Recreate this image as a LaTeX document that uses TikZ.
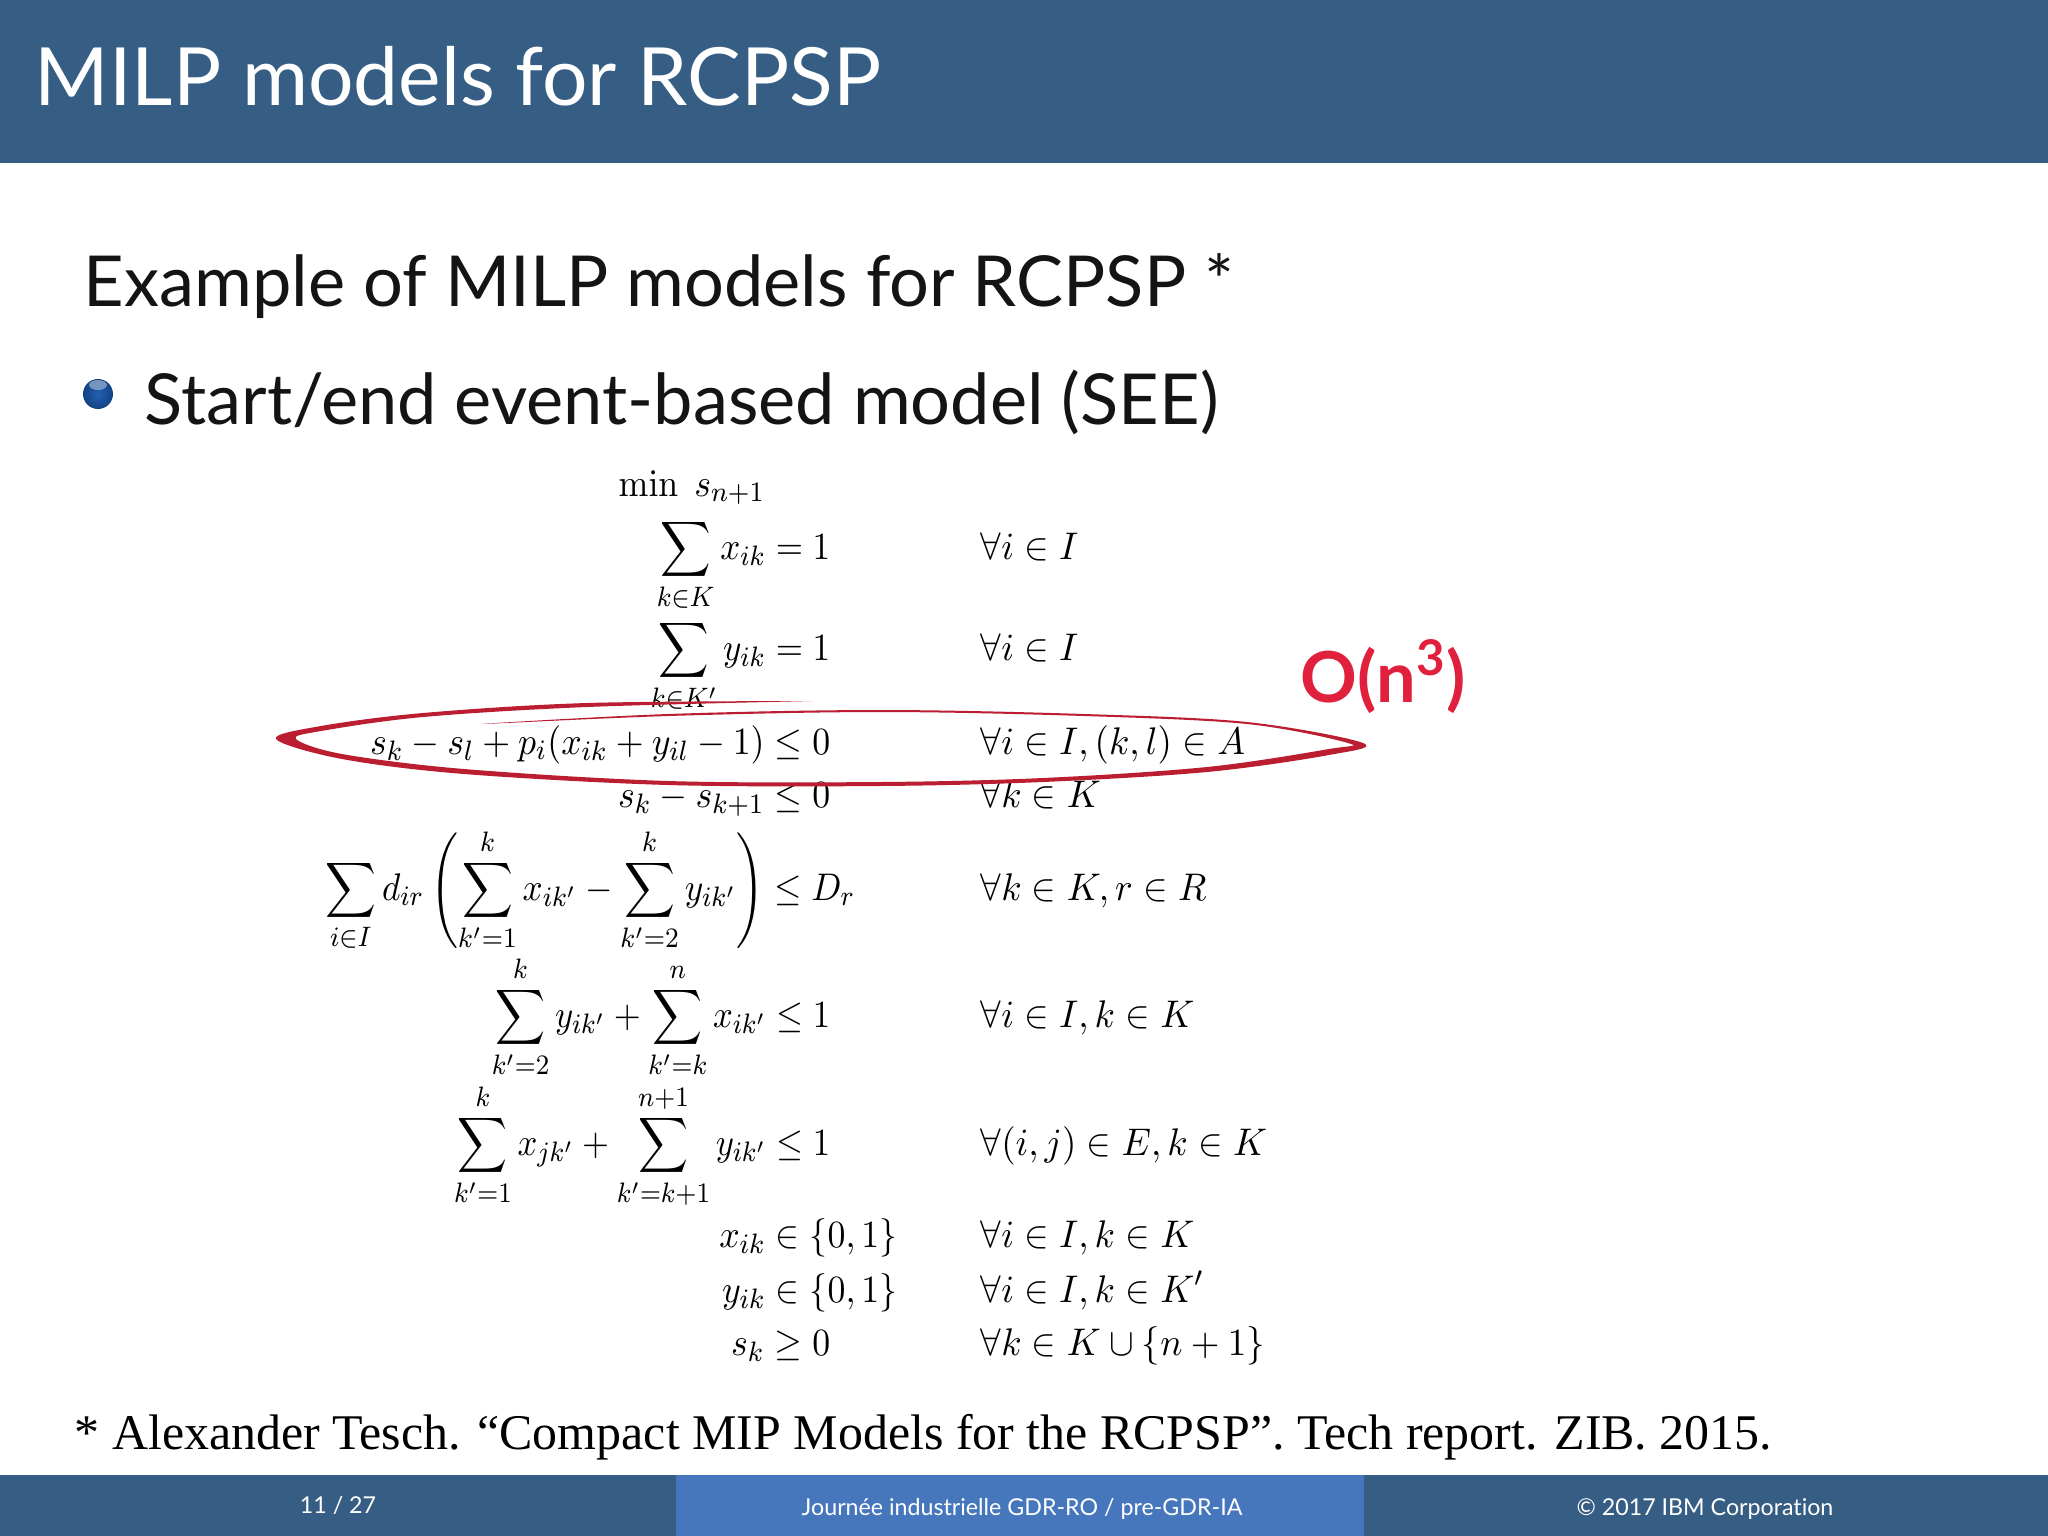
\documentclass[tikz,border=0pt]{standalone}
\usepackage{amsmath}
\usepackage{amssymb}
\usepackage[no-math]{fontspec}
\setmainfont[Ligatures=NoCommon]{Lato}
\newfontfamily\refont{Liberation Serif}
\usetikzlibrary{positioning, shadings}
\definecolor{barblue}{HTML}{365D83}
\definecolor{midblue}{HTML}{4677BD}
\definecolor{inkred}{HTML}{BB1E30}
\definecolor{notered}{HTML}{E0203C}
\definecolor{balllight}{HTML}{2262B4}
\definecolor{balldark}{HTML}{134283}
\definecolor{ballshine}{HTML}{9DB4D3}
\newcommand{\eql}[2][0.93]{\scalebox{#1}[1]{$\displaystyle #2$}}
\newcommand{\eqr}[1]{\scalebox{0.96}[1]{$\displaystyle #1$}}
\tikzset{
	eqleft/.style={anchor=base east, inner sep=0pt, font=\fontsize{10.95}{13}\selectfont},
	eqright/.style={anchor=base west, inner sep=0pt, font=\fontsize{10.95}{13}\selectfont},
	heading/.style={anchor=base west, inner sep=0pt, text=black!92, font=\fontsize{20}{24}\selectfont},
	barlabel/.style={anchor=base, inner sep=0pt, text=white, font=\fontsize{6.6}{8}\selectfont},
}
\begin{document}
\begin{tikzpicture}[x=0.01cm, y=-0.01cm]
	\useasboundingbox (0, 0) rectangle (2048, 1536);
	\fill[white] (0, 0) rectangle (2048, 1536);
	% bars
	\fill[barblue] (0, 0) rectangle (2048, 163);
	\fill[barblue] (0, 1475) rectangle (2048, 1536);
	\fill[midblue] (676, 1475) rectangle (1364, 1536);
	\node[anchor=base west, inner sep=0pt, text=white, font=\fontsize{22.85}{26}\selectfont] (title) at (34, 105) {MILP models for RCPSP};
	\node[barlabel] (pagenum) at (338, 1513) {11 / 27};
	\node[barlabel] (event) at (1022, 1515) {Journée industrielle GDR-RO / pre-GDR-IA};
	\node[barlabel] (corp) at (1705, 1515) {© 2017 IBM Corporation};
	% headings
	\node[heading] (subtitle) at (83, 306) {Example of MILP models for RCPSP *};
	\shade[inner color=balllight, outer color=balldark] (98, 394) circle (15);
	\fill[ballshine, opacity=0.7] (98, 385) ellipse (9 and 5);
	\node[heading] (item) at (144, 424) {Start/end event-based model (SEE)};
	% model
	\node[eqright] (objective) at (618, 496) {\eql{\min\; s_{n+1}}};
	\node[eqleft] (eqa) at (831, 559) {\eql[0.91]{\sum_{k\in K} x_{ik} = 1}};
	\node[eqright] (fora) at (980, 559) {\eqr{\forall i\in I}};
	\node[eqleft] (eqb) at (831, 660) {\eql[0.91]{\sum_{k\in K'} y_{ik} = 1}};
	\node[eqright] (forb) at (980, 660) {\eqr{\forall i\in I}};
	\node[eqleft] (eqc) at (831, 754) {\eql{s_k - s_l + p_i(x_{ik} + y_{il} - 1) \le 0}};
	\node[eqright] (forc) at (980, 754) {\eqr{\forall i\in I, (k,l)\in A}};
	\node[eqleft] (eqd) at (831, 807) {\eql{s_k - s_{k+1} \le 0}};
	\node[eqright] (ford) at (980, 807) {\eqr{\forall k\in K}};
	\node[eqleft] (eqe) at (856, 900) {\eql[0.915]{\sum_{i\in I} d_{ir}\left(\sum_{k'=1}^{k} x_{ik'} - \sum_{k'=2}^{k} y_{ik'}\right) \le D_r}};
	\node[eqright] (fore) at (980, 900) {\eqr{\forall k\in K, r\in R}};
	\node[eqleft] (eqf) at (831, 1027) {\eql[0.90]{\sum_{k'=2}^{k} y_{ik'} + \sum_{k'=k}^{n} x_{ik'} \le 1}};
	\node[eqright] (forf) at (980, 1027) {\eqr{\forall i\in I, k\in K}};
	\node[eqleft] (eqg) at (831, 1155) {\eql[0.90]{\sum_{k'=1}^{k} x_{jk'} + \sum_{k'=k+1}^{n+1} y_{ik'} \le 1}};
	\node[eqright] (forg) at (980, 1155) {\eqr{\forall (i,j)\in E, k\in K}};
	\node[eqleft] (eqh) at (898, 1247) {\eql{x_{ik}\in\{0,1\}}};
	\node[eqright] (forh) at (980, 1247) {\eqr{\forall i\in I, k\in K}};
	\node[eqleft] (eqi) at (898, 1302) {\eql{y_{ik}\in\{0,1\}}};
	\node[eqright] (fori) at (980, 1302) {\eqr{\forall i\in I, k\in K'}};
	\node[eqleft] (eqj) at (831, 1355) {\eql{s_k\ge 0}};
	\node[eqright] (forj) at (980, 1355) {\eqr{\forall k\in K\cup\{n+1\}}};
	% hand drawn ellipse
	\fill[inkred] plot[smooth, tension=0.55] coordinates {(813, 701) (587, 703) (423, 713) (321, 726) (276, 739)
		(342, 759) (464, 774) (668, 785) (880, 786) (1043, 782) (1207, 772) (1329, 755) (1363, 743)
		(1247, 722) (1084, 714) (880, 710) (668, 714) (482, 724)
		(668, 716) (880, 712) (1084, 716) (1247, 724) (1348, 743)
		(1329, 749) (1207, 767) (1043, 778) (880, 782) (668, 781) (464, 769) (342, 754) (296, 739)
		(321, 731) (423, 717) (587, 707) (813, 701)} -- cycle;
	\node[anchor=base west, inner sep=0pt, text=notered, font=\bfseries\fontsize{20}{22}\selectfont] (order) at (1300, 702) {O(n\textsuperscript{3})};
	% reference
	\node[anchor=base west, inner sep=0pt, text=black, font=\refont\fontsize{14.2}{16}\selectfont] (source) at (74, 1449) {* Alexander Tesch. “Compact MIP Models for the RCPSP”. Tech report. ZIB. 2015.};
\end{tikzpicture}
\end{document}
